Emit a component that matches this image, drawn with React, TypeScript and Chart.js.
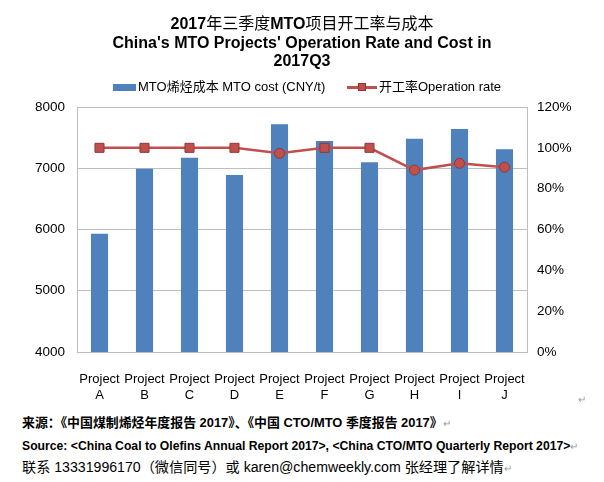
import React, { useEffect, useRef } from "react";
import { Chart, registerables } from "chart.js";

Chart.register(...registerables);

const categories: string[][] = [
  ["Project", "A"], ["Project", "B"], ["Project", "C"], ["Project", "D"], ["Project", "E"],
  ["Project", "F"], ["Project", "G"], ["Project", "H"], ["Project", "I"], ["Project", "J"],
];
const costValues = [5930, 6990, 7170, 6890, 7720, 7445, 7100, 7480, 7640, 7310];
const rateValues = [100, 100, 100, 100, 97.3, 100, 100, 89.1, 92.4, 90.5];
const costAxis = { min: 4000, max: 8000, step: 1000 };
const rateAxis = { min: 0, max: 120, step: 20 };

const costLabel = "MTO烯烃成本 MTO cost (CNY/t)";
const rateLabel = "开工率Operation rate";

const markerStyles = ["rect", "rect", "rect", "rect", "circle", "rect", "rect", "circle", "circle", "circle"];
const markerRadius = [6.4, 6.4, 6.4, 6.4, 5, 6.4, 6.4, 5, 5, 5];

const LATIN = '"Liberation Sans", Arial, "Noto Sans CJK SC", sans-serif';
const CJK = '"Noto Sans CJK SC", "Liberation Sans", sans-serif';
const BLUE = "#4F81BD";
const RED = "#C0504D";
const GRID = "#BFBFBF";

export default function App() {
  const ref = useRef<HTMLCanvasElement | null>(null);

  useEffect(() => {
    if (!ref.current) return;
    const chart = new Chart(ref.current, {
      type: "bar",
      data: {
        labels: categories,
        datasets: [
          {
            type: "line",
            label: rateLabel,
            data: rateValues,
            yAxisID: "y1",
            borderColor: RED,
            borderWidth: 2.5,
            backgroundColor: RED,
            pointStyle: markerStyles as any,
            pointRadius: markerRadius,
            pointBackgroundColor: RED,
            pointBorderColor: "#943634",
            pointBorderWidth: 1,
            order: 0,
          } as any,
          {
            type: "bar",
            label: costLabel,
            data: costValues,
            yAxisID: "y",
            backgroundColor: BLUE,
            barPercentage: 0.38,
            categoryPercentage: 1,
            order: 1,
          },
        ],
      },
      options: {
        responsive: false,
        animation: false,
        layout: { padding: { top: 107, left: 0, right: 0, bottom: 0 } },
        plugins: { legend: { display: false }, title: { display: false }, tooltip: { enabled: false } },
        scales: {
          x: {
            grid: { display: false },
            border: { display: true, color: GRID, width: 1 },
            ticks: {
              color: "#000",
              font: { family: LATIN, size: 13 },
              padding: 12,
              autoSkip: false,
              maxRotation: 0,
              minRotation: 0,
            },
            afterFit: (s: any) => { s.height = 48; },
          },
          y: {
            position: "left",
            min: costAxis.min,
            max: costAxis.max,
            grid: { color: GRID, drawTicks: false, lineWidth: 1 },
            border: { display: true, color: GRID },
            ticks: {
              stepSize: costAxis.step,
              color: "#000",
              font: { family: LATIN, size: 13.5 },
              padding: 12,
              callback: (v: any) => String(v),
            },
            afterFit: (s: any) => { s.width = 77; },
          },
          y1: {
            position: "right",
            min: rateAxis.min,
            max: rateAxis.max,
            grid: { display: false, drawTicks: false },
            border: { display: true, color: GRID },
            ticks: {
              stepSize: rateAxis.step,
              color: "#000",
              font: { family: LATIN, size: 13.5 },
              padding: 10,
              callback: (v: any) => `${v}%`,
            },
            afterFit: (s: any) => { s.width = 77; },
          },
        },
      },
    });
    return () => chart.destroy();
  }, []);

  const abs = (o: React.CSSProperties): React.CSSProperties => ({ position: "absolute", whiteSpace: "nowrap", ...o });
  const centerLine = (top: number): React.CSSProperties =>
    abs({ left: 0, width: 604, top, textAlign: "center", lineHeight: "20px", color: "#000" });

  return (
    <div style={{ position: "absolute", left: 0, top: 0, width: 604, height: 482, background: "#fff", overflow: "hidden" }}>
      <canvas ref={ref} width={604} height={400} style={{ position: "absolute", left: 0, top: 0, width: 604, height: 400 }} />

      <div style={centerLine(12)}>
        <span style={{ fontFamily: LATIN, fontWeight: "bold", fontSize: 16 }}>2017</span>
        <span style={{ fontFamily: CJK, fontSize: 16 }}>年三季度</span>
        <span style={{ fontFamily: LATIN, fontWeight: "bold", fontSize: 16 }}>MTO</span>
        <span style={{ fontFamily: CJK, fontSize: 16 }}>项目开工率与成本</span>
      </div>
      <div style={{ ...centerLine(33), fontFamily: LATIN, fontWeight: "bold", fontSize: 16 }}>
        China's MTO Projects' Operation Rate and Cost in
      </div>
      <div style={{ ...centerLine(51), fontFamily: LATIN, fontWeight: "bold", fontSize: 16 }}>2017Q3</div>

      <div style={abs({ left: 113, top: 84, width: 23, height: 7, background: BLUE })} />
      <div style={abs({ left: 138, top: 79, fontFamily: LATIN, fontSize: 13, lineHeight: "16px", color: "#000" })}>
        {costLabel}
      </div>
      <div style={abs({ left: 347, top: 86, width: 30, height: 2.5, background: RED })} />
      <div style={abs({ left: 358, top: 83, width: 8, height: 8, background: RED, boxSizing: "border-box", border: "1px solid #943634" })} />
      <div style={abs({ left: 379, top: 79, fontFamily: LATIN, fontSize: 13, lineHeight: "16px", color: "#000" })}>
        {rateLabel}
      </div>

      <div style={abs({ left: 578, top: 394, fontFamily: LATIN, fontSize: 10, color: "#999" })}>↵</div>
      <div style={abs({ left: 22, top: 414, fontFamily: LATIN, fontWeight: "bold", fontSize: 12.9, lineHeight: "18px", color: "#000" })}>
        来源：《中国煤制烯烃年度报告 2017》、《中国 CTO/MTO 季度报告 2017》<span style={{ fontWeight: "normal", color: "#999", fontSize: 10 }}>↵</span>
      </div>
      <div style={abs({ left: 22, top: 437, fontFamily: LATIN, fontWeight: "bold", fontSize: 12.2, lineHeight: "18px", color: "#000" })}>
        Source: &lt;China Coal to Olefins Annual Report 2017&gt;, &lt;China CTO/MTO Quarterly Report 2017&gt;<span style={{ fontWeight: "normal", color: "#999", fontSize: 10 }}>↵</span>
      </div>
      <div style={abs({ left: 22, top: 458, fontFamily: LATIN, fontSize: 14.15, lineHeight: "18px", color: "#000" })}>
        联系 13331996170（微信同号）或 karen@chemweekly.com 张经理了解详情<span style={{ color: "#999", fontSize: 10 }}>↵</span>
      </div>
    </div>
  );
}
